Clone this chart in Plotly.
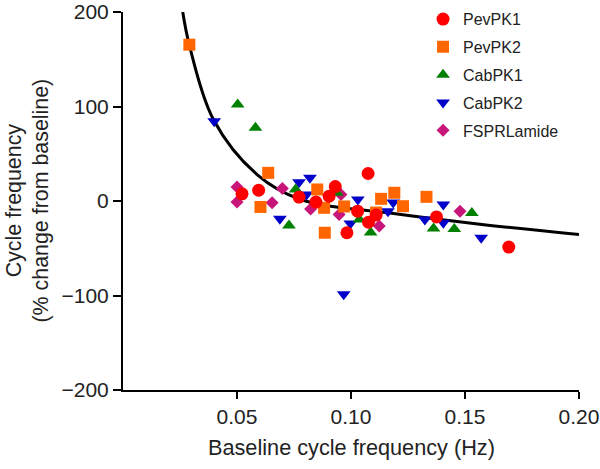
import plotly.graph_objects as go

# ---------------- data ----------------
pevpk1_x = [0.0522, 0.0595, 0.0772, 0.0846, 0.0904, 0.0931, 0.1075, 0.1029, 0.1077, 0.1110, 0.0982, 0.1375, 0.1692]
pevpk1_y = [7.6, 11.4, 4.2, -1.1, 5.1, 15.3, 29.1, -10.8, -22.4, -14.8, -33.6, -16.9, -48.8]

pevpk2_x = [0.0291, 0.0637, 0.0603, 0.0852, 0.0882, 0.0970, 0.0885, 0.1132, 0.1190, 0.1228, 0.1331, 0.1110]
pevpk2_y = [165.4, 29.8, -6.3, 12.2, -7.2, -5.8, -33.6, 2.3, 8.7, -5.5, 4.4, -12.2]

cabpk1_x = [0.0503, 0.0581, 0.0728, 0.0757, 0.0938, 0.1037, 0.1086, 0.1362, 0.1453, 0.1530]
cabpk1_y = [102.1, 77.4, -25.9, 12.2, 8.7, -19.6, -33.3, -29.1, -29.6, -12.7]

cabpk2_x = [0.0400, 0.0688, 0.0820, 0.0772, 0.0805, 0.0997, 0.1030, 0.1162, 0.1185, 0.1324, 0.1405, 0.1405, 0.1571, 0.0968]
cabpk2_y = [84.4, -18.8, 24.5, 19.9, 6.9, -23.8, 1.6, -10.8, -1.6, -19.6, -3.7, -23.0, -38.9, -98.8]

fsprl_x = [0.0500, 0.0500, 0.0699, 0.0654, 0.0823, 0.0948, 0.0956, 0.1124, 0.1478]
fsprl_y = [14.8, -1.1, 13.2, -1.9, -8.5, -14.3, 6.9, -26.4, -10.8]

fit_x = [0.0262, 0.0291, 0.0397, 0.0588, 0.0779, 0.1162, 0.1574, 0.2000]
fit_y = [200, 165, 86, 28, 1.6, -12.5, -24.8, -35.4]

x_ticks = [0.05, 0.10, 0.15, 0.20]
x_tick_text = ["0.05", "0.10", "0.15", "0.20"]
y_ticks = [-200, -100, 0, 100, 200]

series = [
    ("PevPK1", pevpk1_x, pevpk1_y, "circle", "#ff0000", 13),
    ("PevPK2", pevpk2_x, pevpk2_y, "square", "#ff6600", 12),
    ("CabPK1", cabpk1_x, cabpk1_y, "triangle-up", "#008000", 12),
    ("CabPK2", cabpk2_x, cabpk2_y, "triangle-down", "#0000c8", 12),
    ("FSPRLamide", fsprl_x, fsprl_y, "diamond", "#c8157a", 10),
]

FONT = "Arial, Liberation Sans, Helvetica, sans-serif"
TXT = "#222222"

fig = go.Figure()
fig.add_trace(go.Scatter(x=fit_x, y=fit_y, mode="lines", line=dict(color="black", width=3, shape="spline", smoothing=1.0),
                         showlegend=False, hoverinfo="skip"))

# draw later series first so PevPK1 sits on top
for rank, (name, xs, ys, sym, col, sz) in reversed(list(enumerate(series))):
    fig.add_trace(go.Scatter(
        x=xs, y=ys, mode="markers", name=name,
        marker=dict(symbol=sym, color=col, size=sz, line=dict(width=0)),
        legendrank=rank + 1, legendgroup=name,
    ))

fig.update_layout(
    width=600, height=469,
    margin=dict(l=123, r=21, t=12, b=79, autoexpand=False),
    paper_bgcolor="white", plot_bgcolor="white",
    font=dict(family=FONT, size=21, color=TXT),
    showlegend=True,
    legend=dict(x=0.658, y=1.026, xanchor="left", yanchor="top", font=dict(size=16, color=TXT),
                bgcolor="rgba(0,0,0,0)", tracegroupgap=4, traceorder="grouped"),
    xaxis=dict(range=[0, 0.2], showgrid=False, zeroline=False, showline=True, linecolor="black", linewidth=2,
               ticks="outside", ticklen=7, tickwidth=2, tickcolor="black", automargin=False,
               ticklabeloverflow="allow",
               tickvals=x_ticks, ticktext=x_tick_text, tickfont=dict(size=21, color=TXT)),
    yaxis=dict(range=[-200, 200], showgrid=False, zeroline=False, showline=True, linecolor="black", linewidth=2,
               ticks="outside", ticklen=8, tickwidth=2, tickcolor="black", automargin=False,
               ticklabeloverflow="allow",
               tickvals=y_ticks, tickfont=dict(size=21, color=TXT)),
    annotations=[
        dict(text="Cycle frequency<br>(% change from baseline)", xref="paper", yref="paper",
             x=-0.2094, y=0.5, xanchor="center", yanchor="middle", textangle=-90, showarrow=False,
             font=dict(size=21.4, color=TXT, family=FONT)),
        dict(text="Baseline cycle frequency (Hz)", xref="paper", yref="paper",
             x=0.5, y=-0.153, xanchor="center", yanchor="middle", showarrow=False,
             font=dict(size=21.7, color=TXT, family=FONT)),
    ],
)

fig.write_html("out.html", config={"displayModeBar": False},
               post_script="document.body.style.margin='0';")
